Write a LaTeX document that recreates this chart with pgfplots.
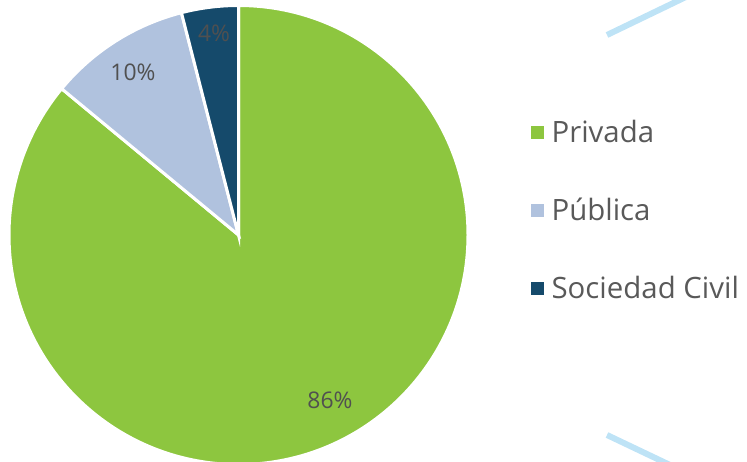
\documentclass[border=0pt]{standalone}
\usepackage{pgfplots}
\pgfplotsset{compat=1.18}
\usepackage{fontspec}
\setmainfont{Open Sans}
\definecolor{privada}{HTML}{8DC63F}
\definecolor{publica}{HTML}{B0C2DE}
\definecolor{civil}{HTML}{154A6B}
\definecolor{deco}{HTML}{BEE3F6}
\definecolor{txt}{HTML}{595959}
% shares (percent), clockwise from 12 o'clock
\def\vA{86}\def\vB{10}\def\vC{4}
\def\cx{238.5}\def\cy{227}\def\rad{229.5bp}
\pgfmathsetmacro\aA{90}
\pgfmathsetmacro\aB{90-3.6*\vA}
\pgfmathsetmacro\aC{\aB-3.6*\vB}
\pgfmathsetmacro\aD{\aC-3.6*\vC}
\begin{document}
\begin{tikzpicture}
\begin{axis}[
    width=747bp, height=462bp, scale only axis,
    xmin=0, xmax=747, ymin=0, ymax=462,
    hide axis, clip=true,
    legend image code/.code={\fill[#1] (0bp,-6bp) rectangle (12bp,6bp);},
    legend style={draw=none, fill=none, at={(axis cs:531,344)}, anchor=north west,
        font=\fontsize{29.5}{33}\selectfont, text=txt, row sep=50bp,
        inner sep=0pt, /tikz/every odd column/.append style={column sep=6bp}},
    legend cell align=left,
]
% pie sectors
\fill[privada, draw=white, line width=3bp] (axis cs:\cx,\cy) -- ++(\aA:\rad) arc[start angle=\aA, end angle=\aB, radius=\rad] -- cycle;
\fill[publica, draw=white, line width=3bp] (axis cs:\cx,\cy) -- ++(\aB:\rad) arc[start angle=\aB, end angle=\aC, radius=\rad] -- cycle;
\fill[civil, draw=white, line width=3bp] (axis cs:\cx,\cy) -- ++(\aC:\rad) arc[start angle=\aC, end angle=\aD, radius=\rad] -- cycle;
% data labels
\node[text=txt!90!black, font=\fontsize{23}{28}\selectfont] at (axis cs:330,62) {\vA\%};
\node[text=txt!90!black, font=\fontsize{23}{28}\selectfont] at (axis cs:133,390) {\vB\%};
\node[text=txt!90!black, font=\fontsize{23}{28}\selectfont] at (axis cs:214,429) {\vC\%};
% decorative strokes
\addplot[deco, line width=6bp, forget plot] coordinates {(607,427) (690,467)};
\addplot[deco, line width=6bp, forget plot] coordinates {(607,27) (670,-3)};
% legend entries
\addlegendimage{privada}\addlegendentry{Privada}
\addlegendimage{publica}\addlegendentry{Pública}
\addlegendimage{civil}\addlegendentry{Sociedad Civil}
\end{axis}
\pgfresetboundingbox
\path[use as bounding box] (current axis.south west) rectangle (current axis.north east);
\end{tikzpicture}
\end{document}
